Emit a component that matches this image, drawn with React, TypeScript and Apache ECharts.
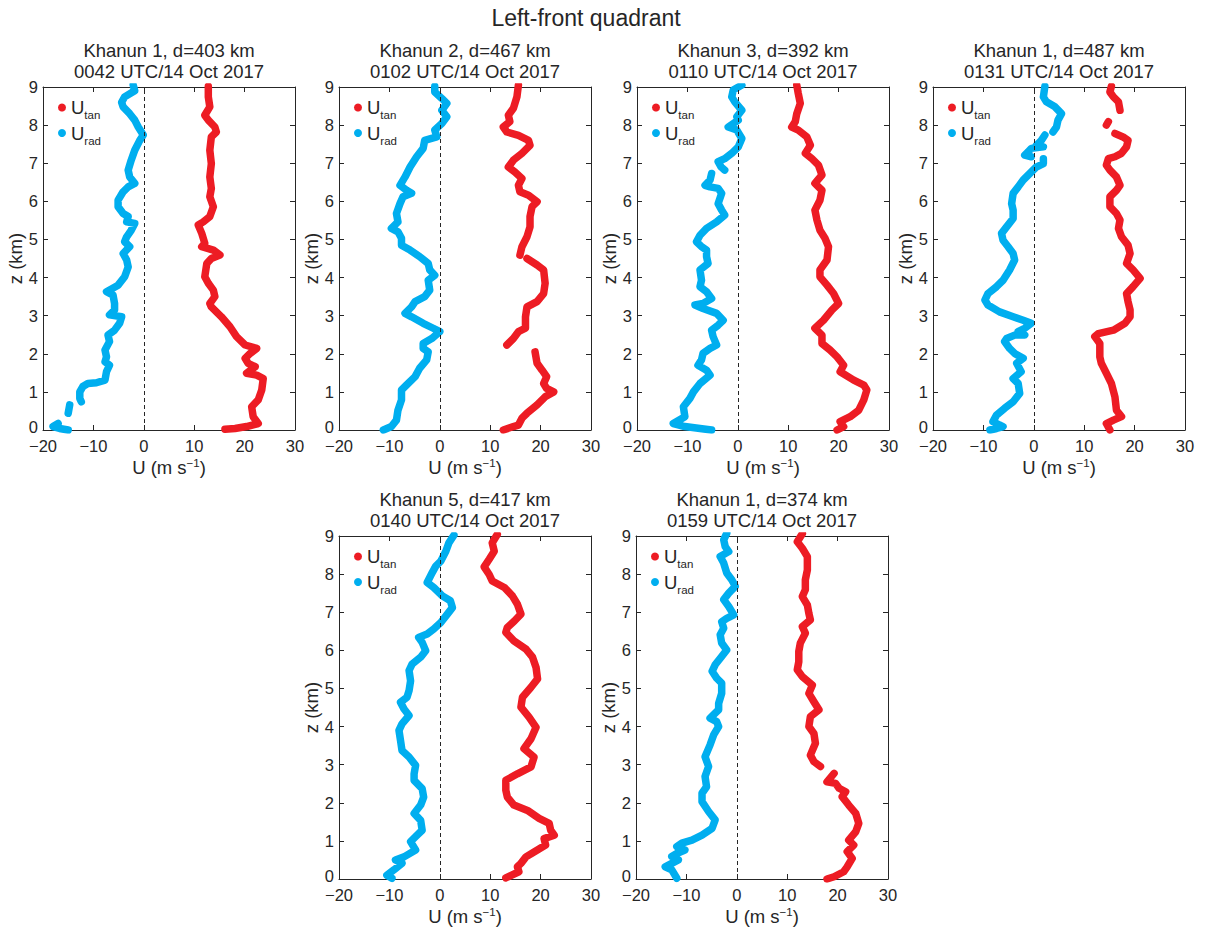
import React, { useEffect, useRef } from "react";
import * as echarts from "echarts";

type Pt = [number, number] | null;

// ---- data: [U (m/s), z (km)]; null = gap ----
const p1Tan: Pt[] = [[12.8,9.02],[12.8,8.74],[13.1,8.48],[12.1,8.26],[12.8,8.13],[14.1,7.95],[14.4,7.82],[13.4,7.69],[13.1,7.34],[13.4,6.99],[13.1,6.64],[13.4,6.34],[13.1,6.12],[13.8,5.86],[13.1,5.6],[11.8,5.46],[10.8,5.38],[11.5,5.16],[12.1,4.9],[11.5,4.81],[13.8,4.72],[15.1,4.59],[13.4,4.5],[12.5,4.37],[12.1,4.02],[12.8,3.85],[13.8,3.67],[14.1,3.5],[13.1,3.32],[13.4,3.23],[15.4,2.97],[17.1,2.71],[18.4,2.45],[20.1,2.23],[22.4,2.14],[21.1,2.01],[20.1,1.88],[20.7,1.75],[22.1,1.66],[20.4,1.49],[22.4,1.44],[23.7,1.35],[23.4,1.05],[22.7,0.79],[21.4,0.61],[21.7,0.35],[22.7,0.17],[20.4,0.09],[18.1,0.04],[16.1,0.02]];
const p1Rad: Pt[] = [[-2.1,9.05],[-1.8,8.9],[-3.8,8.74],[-4.4,8.6],[-4.1,8.48],[-2.8,8.3],[-1.8,8.13],[-1.1,7.95],[-0.1,7.74],[-0.8,7.6],[-1.8,7.34],[-2.5,7.08],[-3.1,6.82],[-2.8,6.64],[-1.8,6.47],[-3.1,6.38],[-4.1,6.25],[-5.1,6.03],[-5.1,5.86],[-4.1,5.68],[-3.1,5.6],[-3.4,5.46],[-1.8,5.42],[-2.5,5.24],[-3.4,5.07],[-3.8,4.94],[-2.8,4.81],[-4.1,4.63],[-3.4,4.46],[-3.1,4.28],[-3.8,4.02],[-5.1,3.8],[-7.4,3.63],[-6.1,3.54],[-5.8,3.32],[-5.8,3.15],[-6.8,3.02],[-4.4,2.97],[-4.8,2.8],[-5.8,2.62],[-7.1,2.49],[-6.8,2.32],[-7.7,2.1],[-7.4,1.92],[-7.7,1.79],[-6.8,1.7],[-7.4,1.53],[-7.7,1.31],[-9.4,1.24],[-11.1,1.22],[-12.1,1.14],[-12.7,1.0],[-12.7,0.83],[-12.4,0.74],null,[-14.7,0.66],[-15.0,0.44],null,[-17.0,0.17],[-18.0,0.09],[-16.7,0.04],[-15.0,0.0]];

const p2Tan: Pt[] = [[15.6,9.05],[15.3,8.74],[14.6,8.44],[13.6,8.26],[13.9,8.09],[12.6,7.95],[13.3,7.82],[15.6,7.73],[17.6,7.6],[17.9,7.47],[16.3,7.26],[14.6,7.08],[13.6,6.9],[14.9,6.77],[16.3,6.6],[15.6,6.42],[15.9,6.25],[17.6,6.16],[19.3,5.99],[18.3,5.86],[17.9,5.6],[17.9,5.33],[17.3,5.07],[16.3,4.81],[15.9,4.59],null,[17.3,4.5],[19.3,4.33],[20.6,4.2],[20.9,3.85],[20.6,3.58],[19.3,3.37],[17.3,3.23],[17.0,2.97],[17.0,2.67],[15.6,2.58],[14.6,2.4],[13.3,2.23],null,[18.9,2.05],[19.3,1.75],[20.3,1.57],[21.2,1.4],[20.6,1.22],[21.2,1.09],[22.6,1.0],[20.9,0.87],[19.3,0.66],[17.3,0.44],[16.3,0.31],[15.6,0.13],[14.6,0.09],[12.6,0.0]];
const p2Rad: Pt[] = [[-1.0,9.02],[-1.0,8.87],[0.4,8.7],[1.4,8.57],[0.4,8.39],[1.4,8.22],[0.4,8.04],[-1.0,7.87],[-0.6,7.69],[-3.0,7.6],[-3.3,7.39],[-4.6,7.17],[-5.9,6.9],[-6.9,6.64],[-7.9,6.42],[-6.6,6.29],[-5.6,6.21],[-7.3,6.12],[-7.9,5.94],[-8.6,5.68],[-8.3,5.46],[-9.6,5.29],[-8.3,5.2],[-7.6,5.03],[-7.6,4.85],[-5.9,4.72],[-4.0,4.55],[-2.3,4.37],[-2.0,4.2],[-1.0,4.06],[-2.3,3.93],[-2.0,3.67],[-3.0,3.5],[-4.9,3.37],[-5.6,3.23],[-6.9,3.06],[-5.6,2.97],[-3.3,2.8],[-1.3,2.67],[0.0,2.58],[-1.6,2.4],[-3.3,2.27],[-3.3,2.14],[-2.3,2.05],[-2.6,1.84],[-4.0,1.62],[-4.9,1.4],[-6.6,1.18],[-7.6,1.05],[-7.6,0.79],[-8.3,0.52],[-8.6,0.26],[-9.6,0.09],[-11.2,0.0]];

const p3Tan: Pt[] = [[11.7,9.05],[12.0,8.83],[12.4,8.57],[11.7,8.3],[11.4,8.09],[10.7,7.95],[12.0,7.87],[13.7,7.69],[14.4,7.47],[13.4,7.26],[14.7,7.12],[16.0,6.95],[16.7,6.69],[15.3,6.47],[16.7,6.29],[16.3,6.03],[15.3,5.77],[15.7,5.51],[16.3,5.24],[17.3,5.03],[18.0,4.81],[17.7,4.46],[16.3,4.2],[16.3,4.02],[17.7,3.8],[19.0,3.58],[20.0,3.32],[18.7,3.15],[17.0,2.88],[15.3,2.67],[16.7,2.49],[16.7,2.27],[18.3,2.1],[19.7,1.92],[21.0,1.7],[20.3,1.53],[23.0,1.31],[25.0,1.18],[25.6,1.05],[25.0,0.79],[24.0,0.52],[22.3,0.35],[20.3,0.22],[21.0,0.09],[19.7,0.0]];
const p3Rad: Pt[] = [[0.8,9.05],[-0.9,8.92],[-1.2,8.74],[-0.6,8.61],[0.8,8.39],[-0.2,8.22],[0.1,8.13],[-1.9,7.95],[-0.2,7.87],[0.8,7.65],[0.1,7.43],[-1.2,7.26],[-2.6,7.12],[-3.9,7.04],[-3.3,6.9],[-2.6,6.82],null,[-5.2,6.73],[-5.5,6.56],[-6.5,6.42],[-5.5,6.38],[-3.9,6.34],[-3.2,6.21],[-3.9,5.94],[-3.2,5.77],[-2.6,5.64],[-4.2,5.46],[-6.2,5.29],[-7.5,5.11],[-8.2,4.94],[-7.2,4.81],[-6.2,4.72],[-6.2,4.55],[-5.9,4.37],[-7.5,4.2],[-7.2,3.93],[-7.5,3.76],[-6.2,3.63],[-5.2,3.45],[-6.9,3.32],[-8.5,3.28],[-6.9,3.19],[-4.2,3.06],[-2.9,2.88],[-3.9,2.75],[-5.2,2.62],[-4.9,2.45],[-4.2,2.23],[-5.5,2.14],[-6.9,2.01],[-7.2,1.84],[-7.9,1.7],[-6.2,1.57],[-5.5,1.44],[-7.5,1.22],[-8.8,1.0],[-9.5,0.83],[-10.8,0.61],[-10.5,0.35],[-12.8,0.17],[-10.5,0.09],[-7.5,0.04],[-5.2,0.0]];

const p4Tan: Pt[] = [[15.4,9.02],[15.1,8.87],[15.8,8.74],[16.8,8.61],[17.1,8.39],null,[14.8,8.09],[14.4,8.0],null,[16.1,7.78],[17.7,7.69],[18.7,7.6],[18.4,7.43],[17.4,7.26],[16.1,7.17],[14.8,7.12],[14.4,6.95],[15.1,6.82],[16.4,6.64],[17.1,6.42],[16.4,6.29],[15.1,6.12],[15.1,5.86],[16.4,5.68],[17.1,5.51],[16.8,5.29],[17.4,5.07],[18.7,4.85],[19.1,4.63],[18.4,4.37],[19.7,4.2],[21.1,3.98],[19.7,3.76],[18.4,3.58],[18.7,3.37],[19.1,3.15],[19.1,2.97],[18.1,2.8],[15.8,2.62],[12.8,2.53],[12.1,2.45],[13.1,2.27],[13.1,1.92],[13.4,1.75],[14.4,1.49],[15.4,1.22],[16.1,0.87],[16.4,0.52],[17.4,0.35],[15.8,0.26],[14.4,0.17],[15.1,0.0]];
const p4Rad: Pt[] = [[2.2,9.02],[1.9,8.74],[2.5,8.61],[4.2,8.48],[5.5,8.3],[4.8,8.13],[4.5,7.95],[3.8,7.82],null,[2.2,7.74],[1.5,7.6],[0.5,7.47],[1.9,7.43],[-0.5,7.39],[-1.1,7.3],[-1.8,7.21],[-0.5,7.17],null,[1.9,7.12],[1.9,6.99],[0.5,6.9],[-0.8,6.73],[-2.1,6.56],[-3.1,6.38],[-4.1,6.21],[-4.4,5.94],[-4.1,5.77],[-4.1,5.55],[-5.4,5.33],[-6.4,5.16],[-6.1,4.98],[-5.1,4.81],[-4.1,4.63],[-3.8,4.46],[-4.8,4.2],[-6.1,3.93],[-7.4,3.76],[-9.1,3.58],[-9.7,3.41],[-9.1,3.28],[-6.8,3.1],[-4.1,2.97],[-2.1,2.88],[-0.5,2.8],[-1.8,2.67],[-3.1,2.58],[-1.8,2.49],[-3.8,2.49],[-5.4,2.4],[-5.8,2.32],[-4.8,2.14],[-3.8,2.01],[-2.1,1.88],[-3.4,1.75],[-2.5,1.53],[-4.1,1.35],[-3.1,1.22],[-2.8,0.96],[-4.1,0.74],[-5.8,0.57],[-7.4,0.39],[-8.1,0.22],[-6.8,0.13],[-6.1,0.09],[-7.4,0.04],[-8.7,0.0]];

const p5Tan: Pt[] = [[11.4,9.04],[10.4,8.82],[10.8,8.6],[9.8,8.39],[8.8,8.19],[9.8,7.99],[10.4,7.82],[12.8,7.65],[14.4,7.43],[15.4,7.21],[16.1,6.95],[14.8,6.77],[13.4,6.6],[13.1,6.47],[14.7,6.25],[17.1,6.03],[18.4,5.82],[19.1,5.55],[19.4,5.25],[18.1,5.03],[16.4,4.77],[16.1,4.51],[17.7,4.25],[19.1,3.98],[18.1,3.68],[16.7,3.42],[18.7,3.2],[18.1,2.94],[15.4,2.76],[13.1,2.59],[13.1,2.33],[13.4,2.15],[14.7,1.94],[17.4,1.8],[19.7,1.59],[21.7,1.46],[22.0,1.28],[22.7,1.15],[20.7,1.06],[21.0,0.89],[18.7,0.71],[17.1,0.58],[16.1,0.41],[15.4,0.32],[15.7,0.19],[13.1,0.03]];
const p5Rad: Pt[] = [[2.8,9.02],[1.8,8.82],[1.2,8.6],[0.2,8.34],[-0.8,8.21],[-1.5,8.04],[-2.2,7.86],[-2.5,7.78],[-1.2,7.65],[0.5,7.43],[2.1,7.3],[2.5,7.12],[1.5,6.95],[0.2,6.73],[-1.2,6.56],[-2.5,6.43],[-4.2,6.34],[-3.5,6.21],[-2.8,5.99],[-3.8,5.82],[-5.5,5.64],[-6.1,5.47],[-5.8,5.2],[-6.1,4.94],[-6.5,4.77],[-7.8,4.64],[-7.1,4.46],[-6.1,4.29],[-7.5,4.07],[-8.1,3.9],[-7.8,3.64],[-7.5,3.37],[-6.1,3.2],[-4.8,2.98],[-5.1,2.76],[-5.1,2.59],[-3.5,2.37],[-3.2,2.15],[-3.8,1.94],[-5.1,1.72],[-3.8,1.54],[-3.5,1.28],[-4.8,1.11],[-5.8,0.98],[-4.8,0.76],[-7.1,0.58],[-8.8,0.5],[-7.5,0.41],[-9.1,0.24],[-10.5,0.1],[-9.5,0.02]];

const p6Tan: Pt[] = [[13.0,9.06],[12.0,8.85],[13.0,8.68],[14.0,8.46],[14.0,8.11],[13.6,7.85],[13.6,7.59],[13.0,7.41],[14.0,7.19],[14.3,6.97],[14.6,6.8],[13.0,6.62],[13.6,6.45],[12.6,6.19],[12.3,5.97],[12.3,5.7],[12.0,5.49],[13.0,5.31],[15.0,5.09],[14.3,4.87],[15.3,4.65],[16.3,4.44],[14.6,4.26],[14.3,4.0],[15.3,3.82],[15.6,3.56],[14.6,3.25],[15.3,3.08],[16.6,2.95],null,[19.3,2.77],[17.9,2.55],[19.6,2.51],[20.3,2.38],[21.6,2.29],[20.9,2.16],[22.2,1.94],[23.6,1.72],[24.2,1.46],[23.6,1.24],[22.2,1.02],[23.2,0.89],[21.9,0.72],[22.9,0.54],[21.9,0.32],[21.2,0.19],[19.3,0.06],[17.9,0.0]];
const p6Rad: Pt[] = [[-2.0,9.07],[-2.6,8.9],[-2.3,8.72],[-1.6,8.59],[-3.3,8.46],[-2.6,8.29],[-2.0,8.03],[-1.0,7.85],[-0.3,7.68],[-1.6,7.5],[-2.6,7.33],[-1.6,7.15],[-0.6,6.93],[-2.0,6.84],[-3.0,6.75],[-2.6,6.58],[-3.3,6.41],[-3.0,6.19],[-2.0,6.01],[-3.0,5.84],[-4.3,5.62],[-4.9,5.45],[-4.0,5.27],[-3.0,5.14],[-3.0,4.87],[-3.6,4.61],[-3.6,4.44],[-5.3,4.22],[-4.0,4.13],[-3.6,4.0],[-4.6,3.78],[-5.3,3.52],[-6.3,3.21],[-5.6,2.95],[-6.3,2.69],[-6.0,2.42],[-6.9,2.25],[-6.9,2.03],[-5.6,1.77],[-4.3,1.55],[-4.9,1.33],[-6.9,1.15],[-8.9,1.02],[-10.9,0.94],[-11.9,0.85],[-10.3,0.76],[-11.9,0.67],[-12.9,0.59],[-11.6,0.5],[-14.2,0.32],[-12.9,0.24],[-11.9,0.02]];

const panelTitles: string[] = [
  "Khanun 1, d=403 km\n0042 UTC/14 Oct 2017",
  "Khanun 2, d=467 km\n0102 UTC/14 Oct 2017",
  "Khanun 3, d=392 km\n0110 UTC/14 Oct 2017",
  "Khanun 1, d=487 km\n0131 UTC/14 Oct 2017",
  "Khanun 5, d=417 km\n0140 UTC/14 Oct 2017",
  "Khanun 1, d=374 km\n0159 UTC/14 Oct 2017",
];
const tanSeries: Pt[][] = [p1Tan, p2Tan, p3Tan, p4Tan, p5Tan, p6Tan];
const radSeries: Pt[][] = [p1Rad, p2Rad, p3Rad, p4Rad, p5Rad, p6Rad];
const mainTitle = "Left-front quadrant";
const xMin = -20, xMax = 30, xStep = 10;
const yMin = 0, yMax = 9, yStep = 1;

// ---- layout ----
const boxes: [number, number][] = [[43, 87], [339, 87], [637, 87], [933, 87], [339, 536], [636, 536]];
const W = 252, H = 343;
const RED = "#ED1C24", BLUE = "#00AEEF", INK = "#262626";
const FONT = "'Liberation Sans', Arial, Helvetica, sans-serif";

const fmtTick = (v: number) => (v < 0 ? "\u2212" + Math.abs(v) : String(v));
const fmtY = (v: number) => (v === 0 ? "{z|0}" : String(v));
const toData = (pts: Pt[]) => pts.map((p) => (p === null ? "-" : p));

export default function App() {
  const ref = useRef<HTMLDivElement>(null);
  useEffect(() => {
    if (!ref.current) return;
    const chart = echarts.init(ref.current, undefined, { renderer: "svg" });
    const grid: any[] = [], xAxis: any[] = [], yAxis: any[] = [], series: any[] = [], title: any[] = [], legend: any[] = [];
    title.push({ text: mainTitle, left: 586, top: 6, padding: 0, textAlign: "center",
      textStyle: { fontFamily: FONT, fontSize: 23, fontWeight: "normal", color: INK } });
    boxes.forEach(([l, t], i) => {
      grid.push({ left: l, top: t, width: W, height: H, outerBoundsMode: "none", containLabel: false });
      const tick = { show: true, inside: true, length: 5, lineStyle: { color: INK, width: 1 } };
      const line = { show: true, onZero: false, lineStyle: { color: INK, width: 1 } };
      xAxis.push({ type: "value", gridIndex: i, min: xMin, max: xMax, interval: xStep, position: "bottom",
        axisLine: line, axisTick: tick, splitLine: { show: false },
        axisLabel: { formatter: fmtTick, fontFamily: FONT, fontSize: 16.5, lineHeight: 13, color: INK, margin: 9.5 },
        name: "{n|U (m s}{p|\u22121}{n|)}", nameLocation: "middle", nameGap: 27,
        nameTextStyle: { color: INK, fontFamily: FONT, rich: {
          n: { fontFamily: FONT, fontSize: 18.5, color: INK },
          p: { fontFamily: FONT, fontSize: 11.5, color: INK, padding: [0, 0, 9, 0] } } } });
      xAxis.push({ type: "value", gridIndex: i, min: xMin, max: xMax, interval: xStep, position: "top",
        axisLine: line, axisTick: tick, splitLine: { show: false }, axisLabel: { show: false } });
      yAxis.push({ type: "value", gridIndex: i, min: yMin, max: yMax, interval: yStep, position: "left",
        axisLine: line, axisTick: tick, splitLine: { show: false },
        axisLabel: { formatter: fmtY, fontFamily: FONT, fontSize: 16.5, lineHeight: 13, color: INK, margin: 5,
          rich: { z: { fontFamily: FONT, fontSize: 16.5, color: INK, padding: [0, 0, 6, 0] } } },
        name: "z (km)", nameLocation: "middle", nameGap: 18,
        nameTextStyle: { fontFamily: FONT, fontSize: 18.5, color: INK } });
      yAxis.push({ type: "value", gridIndex: i, min: yMin, max: yMax, interval: yStep, position: "right",
        axisLine: line, axisTick: tick, splitLine: { show: false }, axisLabel: { show: false } });
      title.push({ text: panelTitles[i], left: l + W / 2, top: t - 47, padding: 0, textAlign: "center",
        textStyle: { fontFamily: FONT, fontSize: 18.5, lineHeight: 20.7, fontWeight: "normal", color: INK } });
      legend.push({ show: true, orient: "vertical", left: l + 15, top: t + 11, padding: 0, itemGap: 2.5,
        itemWidth: 8, itemHeight: 8, icon: "circle", data: ["U_tan", "U_rad"],
        formatter: (n: string) => (n === "U_tan" ? "{u|U}{s|tan}" : "{u|U}{s|rad}"),
        textStyle: { color: INK, fontFamily: FONT, rich: {
          u: { fontFamily: FONT, fontSize: 18.5, color: INK },
          s: { fontFamily: FONT, fontSize: 11.5, color: INK, padding: [15, 0, 0, 0] } } } });
      const xi = 2 * i, yi = 2 * i;
      series.push({ type: "line", name: "zero", xAxisIndex: xi, yAxisIndex: yi, data: [], z: 1, silent: true,
        markLine: { silent: true, symbol: "none", label: { show: false },
          lineStyle: { color: INK, width: 1, type: [4, 3] }, data: [{ xAxis: 0 }] } });
      series.push({ type: "line", name: "U_tan", xAxisIndex: xi, yAxisIndex: yi, data: toData(tanSeries[i]),
        showSymbol: false, symbol: "none", z: 3, itemStyle: { color: RED },
        lineStyle: { color: RED, width: 7.5, cap: "round", join: "round" } });
      series.push({ type: "line", name: "U_rad", xAxisIndex: xi, yAxisIndex: yi, data: toData(radSeries[i]),
        showSymbol: false, symbol: "none", z: 3, itemStyle: { color: BLUE },
        lineStyle: { color: BLUE, width: 7.5, cap: "round", join: "round" } });
    });
    chart.setOption({ animation: false, backgroundColor: "#fff", title, grid, xAxis, yAxis, legend, series });
    return () => chart.dispose();
  }, []);
  return <div ref={ref} style={{ position: "absolute", left: 0, top: 0, width: 1206, height: 930 }} />;
}
